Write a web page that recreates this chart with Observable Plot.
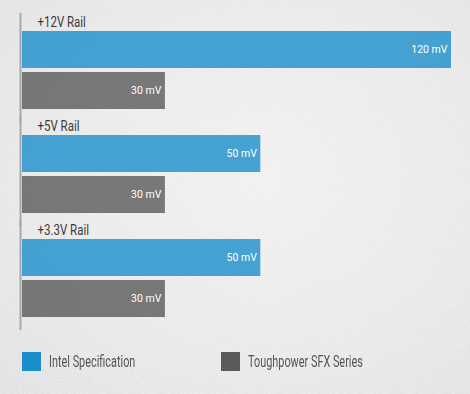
<!DOCTYPE html>
<html>
<head>
<meta charset="utf-8">
<script src="https://cdn.jsdelivr.net/npm/d3@7"></script>
<script src="https://cdn.jsdelivr.net/npm/@observablehq/plot@0.6"></script>
<style>
  html, body { margin: 0; padding: 0; }
  body {
    width: 470px; height: 394px; overflow: hidden;
    background-color: #e9e9e9;
    background-image:
      url("data:image/svg+xml;utf8,<svg xmlns='http://www.w3.org/2000/svg' width='470' height='394'><filter id='n'><feTurbulence type='fractalNoise' baseFrequency='0.9' numOctaves='2' seed='3'/><feColorMatrix values='0 0 0 0 1  0 0 0 0 1  0 0 0 0 1  0 0 0 0.9 -0.35'/></filter><rect width='100%' height='100%' filter='url(%23n)'/></svg>"),
      radial-gradient(ellipse at 55% 45%, #f0f0f0 0%, #e8e8e8 60%, #e0e0e0 100%);
    font-family: Roboto, "Noto Sans", sans-serif;
  }
  #chart svg { display: block; background: transparent; }
  .legend { height: 19px; margin-top: 12px; position: relative; }
  .item { position: absolute; top: 0; display: flex; align-items: center; height: 19px; }
  .sw { width: 19px; height: 19px; margin-right: 8px; flex: none; }
  .lab { display: inline-block; font-size: 16px; font-weight: 400; color: #555; white-space: nowrap;
         transform: scaleX(0.68); transform-origin: 0 50%; }
</style>
</head>
<body>
<div id="chart"></div>
<script>
const rails = ["+12V Rail", "+5V Rail", "+3.3V Rail"];
const series = ["Intel Specification", "Toughpower SFX Series"];
const intel = [120, 50, 50];
const toughpower = [30, 30, 30];
const colors = ["#1c8ecb", "#5a5a5a"];
const unit = "mV";

const data = rails.flatMap((rail, i) => [
  {rail, series: series[0], value: intel[i]},
  {rail, series: series[1], value: toughpower[i]}
]);

const xBase = 12.3;

const plot = Plot.plot({
  width: 470,
  height: 340,
  marginLeft: 22,
  marginRight: 19,
  marginTop: 31,
  marginBottom: 22,
  style: {background: "transparent", overflow: "visible"},
  x: {type: "pow", exponent: 0.22, domain: [xBase, 120], axis: null},
  fy: {domain: rails, paddingInner: 0.244, paddingOuter: 0, axis: null},
  y: {domain: series, paddingInner: 0.097, paddingOuter: 0, axis: null},
  color: {domain: series, range: colors},
  marks: [
    Plot.ruleX([xBase], {stroke: "#a9a9a9", strokeWidth: 2, dx: -2, insetTop: -18, insetBottom: -12}),
    Plot.barX(data, {fy: "rail", y: "series", x1: xBase, x2: "value", fill: "series", fillOpacity: 0.8}),
    Plot.text(data, {
      fy: "rail", y: "series", x: "value",
      text: d => `${d.value} ${unit}`,
      textAnchor: "end", dx: -4, fill: "white",
      fontSize: 10.5, fontFamily: "Roboto, Liberation Sans, Arial, sans-serif"
    }),
    Plot.text(rails, {
      fy: d => d, text: d => d,
      frameAnchor: "top-left", lineAnchor: "bottom", dx: 15, dy: -5,
      fill: "#3a3a3a", fontSize: 15.5, fontWeight: 400,
      fontFamily: "Roboto, Noto Sans, sans-serif"
    })
  ]
});
document.getElementById("chart").appendChild(plot);

// condense the rail labels to mimic the narrow display face
plot.querySelectorAll("text").forEach(t => {
  if (rails.includes(t.textContent)) {
    const w = t.getComputedTextLength();
    t.setAttribute("textLength", (w * 0.74).toFixed(1));
    t.setAttribute("lengthAdjust", "spacingAndGlyphs");
  }
});

const legend = document.createElement("div");
legend.className = "legend";
const lefts = [22, 221];
series.forEach((s, i) => {
  const item = document.createElement("div");
  item.className = "item";
  item.style.left = lefts[i] + "px";
  const sw = document.createElement("div");
  sw.className = "sw";
  sw.style.background = colors[i];
  const lab = document.createElement("span");
  lab.className = "lab";
  lab.textContent = s;
  item.appendChild(sw);
  item.appendChild(lab);
  legend.appendChild(item);
});
document.body.appendChild(legend);
</script>
</body>
</html>
